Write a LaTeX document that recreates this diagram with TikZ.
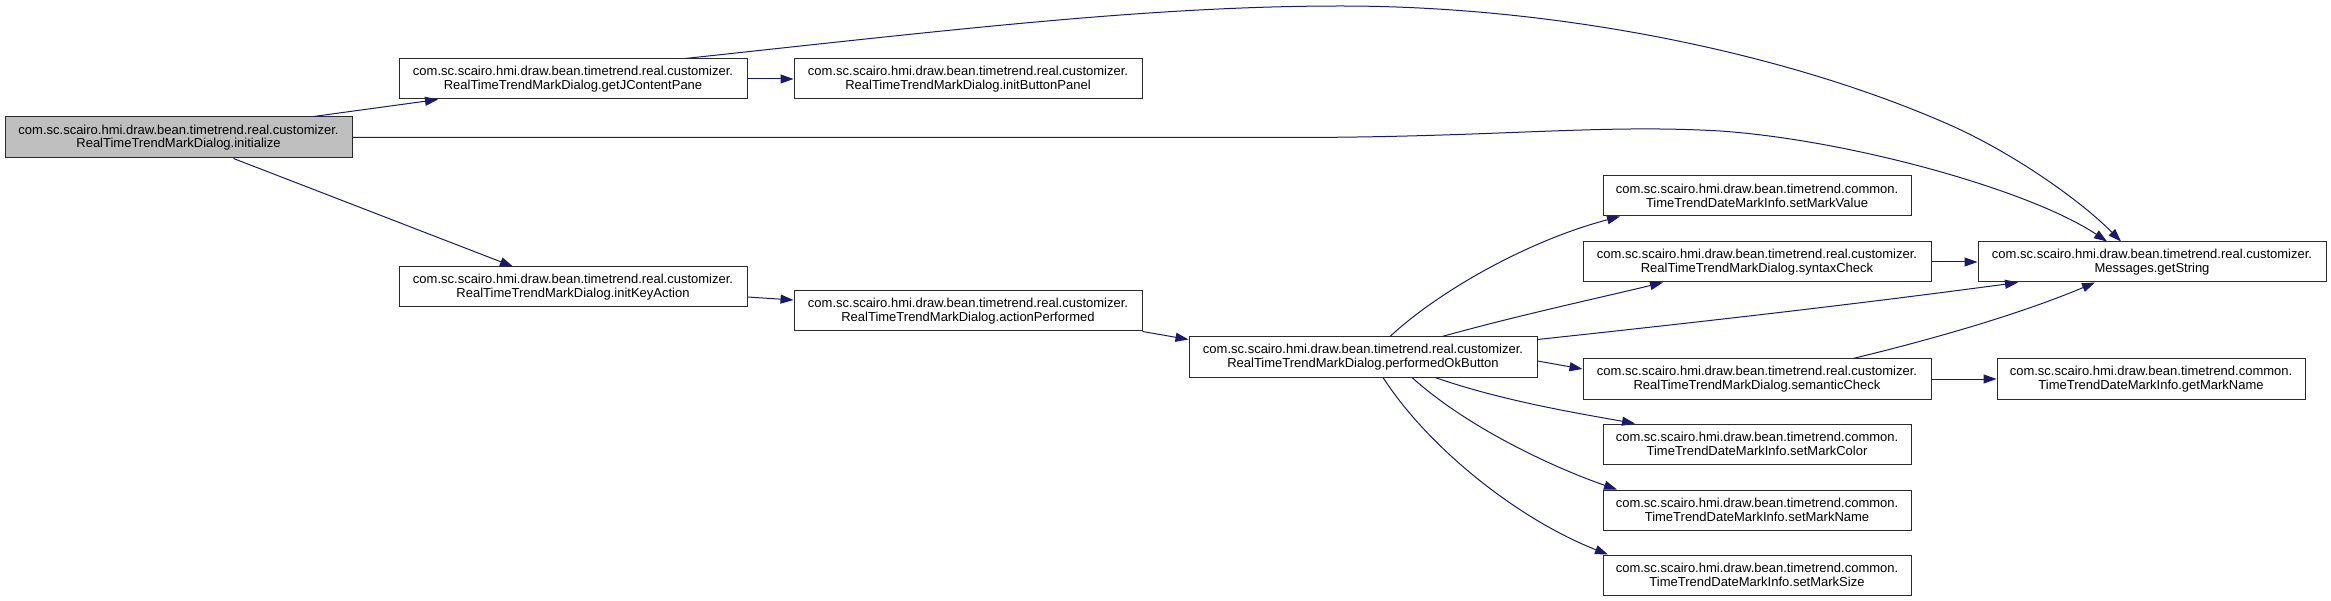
\documentclass[tikz,border=0pt]{standalone}
\usepackage{fontspec}
\setmainfont{Liberation Sans}
\usetikzlibrary{arrows.meta}
\definecolor{edgeblue}{HTML}{191970}
\definecolor{boxline}{HTML}{2A2A2A}
\definecolor{curfill}{HTML}{BFBFBF}

\begin{document}
\begin{tikzpicture}[
    x=1pt, y=-1pt,
    every node/.style={font=\fontsize{13}{13.6}\selectfont},
    fn/.style={rectangle, draw=boxline, fill=white, line width=1pt,
               minimum width=348pt, minimum height=40pt, inner sep=1pt,
               align=center, text=black},
    fnshort/.style={fn, minimum width=308pt},
    cur/.style={fn, fill=curfill, minimum width=347pt, minimum height=41pt},
    call/.style={-{Triangle[length=13pt, width=9pt]}, line width=1pt, color=edgeblue},
]

\fill[white] (0,0) rectangle (2331,601);
\useasboundingbox (0,0) rectangle (2331,601);

% ================================================================ nodes
\node[cur] (init) at (178.5, 137.5)
    {com.sc.scairo.hmi.draw.bean.timetrend.real.customizer.\\ RealTimeTrendMarkDialog.initialize};
\node[fn] (getPane) at (573, 79)
    {com.sc.scairo.hmi.draw.bean.timetrend.real.customizer.\\ RealTimeTrendMarkDialog.getJContentPane};
\node[fn] (btnPanel) at (968, 79)
    {com.sc.scairo.hmi.draw.bean.timetrend.real.customizer.\\ RealTimeTrendMarkDialog.initButtonPanel};
\node[fn] (keyAction) at (573, 287)
    {com.sc.scairo.hmi.draw.bean.timetrend.real.customizer.\\ RealTimeTrendMarkDialog.initKeyAction};
\node[fn] (actPerf) at (968, 311)
    {com.sc.scairo.hmi.draw.bean.timetrend.real.customizer.\\ RealTimeTrendMarkDialog.actionPerformed};
\node[fn] (okBtn) at (1363, 357)
    {com.sc.scairo.hmi.draw.bean.timetrend.real.customizer.\\ RealTimeTrendMarkDialog.performedOkButton};

\node[fnshort] (setValue) at (1757, 196)
    {com.sc.scairo.hmi.draw.bean.timetrend.common.\\ TimeTrendDateMarkInfo.setMarkValue};
\node[fn] (syntax) at (1757, 262)
    {com.sc.scairo.hmi.draw.bean.timetrend.real.customizer.\\ RealTimeTrendMarkDialog.syntaxCheck};
\node[fn] (semantic) at (1757, 379)
    {com.sc.scairo.hmi.draw.bean.timetrend.real.customizer.\\ RealTimeTrendMarkDialog.semanticCheck};
\node[fnshort] (setColor) at (1757, 444)
    {com.sc.scairo.hmi.draw.bean.timetrend.common.\\ TimeTrendDateMarkInfo.setMarkColor};
\node[fnshort] (setName) at (1757, 510)
    {com.sc.scairo.hmi.draw.bean.timetrend.common.\\ TimeTrendDateMarkInfo.setMarkName};
\node[fnshort] (setSize) at (1757, 575)
    {com.sc.scairo.hmi.draw.bean.timetrend.common.\\ TimeTrendDateMarkInfo.setMarkSize};

\node[fn] (getStr) at (2152, 262)
    {com.sc.scairo.hmi.draw.bean.timetrend.real.customizer.\\ Messages.getString};
\node[fnshort] (getName) at (2151, 379)
    {com.sc.scairo.hmi.draw.bean.timetrend.common.\\ TimeTrendDateMarkInfo.getMarkName};

% ================================================================ calls
\draw[call] ([xshift=135pt]init.north) -- ([xshift=-135pt]getPane.south);
\draw[call] (init.east) -- (1300, 137.5)
    .. controls (1500, 137) and (1600, 124) .. (1720, 131)
    .. controls (1850, 140) and (2030, 190) .. ([xshift=-45pt]getStr.north);
\draw[call] ([xshift=55pt]init.south) -- ([xshift=-60pt]keyAction.north);

\draw[call] (getPane.east) -- (btnPanel.west);
\draw[call] ([xshift=112pt]getPane.north)
    .. controls (950, 30) and (1150, 6) .. (1341, 6)
    .. controls (1550, 6) and (1780, 50) .. (1950, 125)
    .. controls (2013, 153) and (2080, 200) .. ([xshift=-31pt]getStr.north);

\draw[call] ([yshift=-10pt]keyAction.east) -- ([yshift=11pt]actPerf.west);
\draw[call] (actPerf.south east) -- ([yshift=-3pt]okBtn.north west);

\draw[call] ([xshift=27pt]okBtn.north)
    .. controls (1440, 290) and (1530, 240) .. ([xshift=-137pt]setValue.south);
\draw[call] ([xshift=79pt]okBtn.north)
    .. controls (1520, 315) and (1590, 300) .. ([xshift=-94pt]syntax.south);
\draw[call] ([yshift=-3pt]okBtn.north east)
    .. controls (1700, 322) and (1850, 305) .. ([xshift=-134pt]getStr.south);
\draw[call] ([yshift=-4pt]okBtn.east) -- ([yshift=10pt]semantic.west);
\draw[call] ([xshift=72pt]okBtn.south)
    .. controls (1500, 400) and (1570, 412) .. ([xshift=-122pt]setColor.north);
\draw[call] ([xshift=49pt]okBtn.south)
    .. controls (1470, 430) and (1560, 470) .. ([xshift=-140pt]setName.north);
\draw[call] ([xshift=20pt]okBtn.south)
    .. controls (1430, 450) and (1520, 520) .. ([xshift=-149pt]setSize.north);

\draw[call] (syntax.east) -- (getStr.west);
\draw[call] ([xshift=96pt]semantic.north)
    .. controls (1950, 335) and (2030, 310) .. ([xshift=-57pt]getStr.south);
\draw[call] (semantic.east) -- (getName.west);

\end{tikzpicture}
\end{document}
